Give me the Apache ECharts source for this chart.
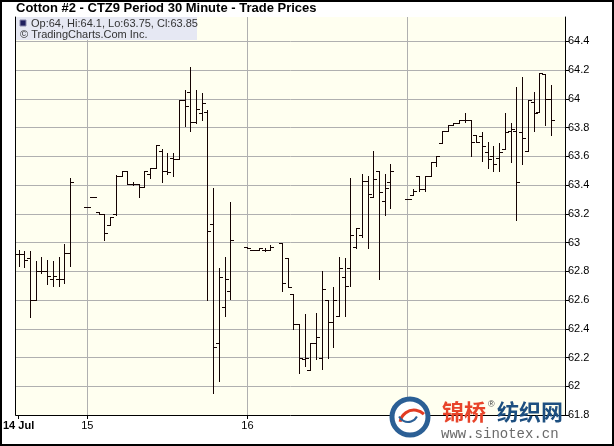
<!DOCTYPE html>
<html><head><meta charset="utf-8">
<script src="https://cdn.jsdelivr.net/npm/echarts@6/dist/echarts.min.js"></script>
<style>html,body{margin:0;padding:0;background:#fff}#c{width:614px;height:446px}</style>
</head><body><div id="c"></div>
<script>
// 30-minute slot index (0 = start of 15 Jul, 28 slots per day)
const slots = [-12,-11,-10,-9,-8,-7,-6,-5,-4,-3,
  0,1,2,3,4,5,6,7,8,9,10,11,12,13,14,15,16,17,18,19,20,21,22,23,24,25,
  28,29,30,31,32,
  34,35,36,37,38,39,40,41,42,43,44,45,46,47,48,49,50,51,52,53,
  56,57,58,59,60,61,62,63,64,65,66,67,68,69,70,71,72,73,74,75,76,77,78,79,80,81];
const opens = [62.92,62.92,62.89,62.60,62.80,62.80,62.75,62.75,62.75,62.93,
  63.25,63.32,63.21,63.20,63.12,63.20,63.46,63.50,63.41,63.41,63.39,63.48,63.52,63.64,63.50,63.59,63.58,63.99,64.05,63.84,63.90,63.91,63.13,62.30,62.55,62.66,
  62.97,62.95,62.95,62.95,62.95,
  63.00,62.89,62.64,62.43,62.19,62.11,62.30,62.20,62.60,62.45,62.49,62.76,62.82,62.97,63.05,63.43,63.32,63.50,63.29,63.42,
  63.30,63.33,63.46,63.37,63.46,63.56,63.69,63.78,63.82,63.83,63.85,63.85,63.75,63.74,63.63,63.60,63.59,63.65,63.78,63.78,63.77,63.64,63.98,63.91,64.17,64.00];
const highs = [62.95,62.94,62.94,62.87,62.90,62.88,62.87,62.90,62.99,63.45,
  63.25,63.32,63.21,63.20,63.18,63.47,63.50,63.50,63.42,63.41,63.50,63.52,63.68,63.65,63.62,63.62,63.99,64.06,64.22,64.06,64.04,63.92,63.38,62.82,62.90,63.28,
  62.97,62.95,62.96,62.96,62.98,
  63.00,62.89,62.64,62.43,62.50,62.30,62.51,62.80,62.60,62.69,62.90,62.89,63.45,63.10,63.48,63.46,63.64,63.50,63.48,63.55,
  63.30,63.37,63.46,63.46,63.56,63.60,63.78,63.82,63.83,63.85,63.90,63.85,63.75,63.77,63.70,63.67,63.69,63.90,63.83,64.08,64.15,63.99,64.05,64.18,64.17,64.10];
const lows = [62.84,62.83,62.48,62.60,62.79,62.71,62.70,62.70,62.72,62.84,
  63.25,63.32,63.20,63.02,63.12,63.19,63.46,63.41,63.40,63.32,63.39,63.45,63.52,63.42,63.48,63.46,63.58,63.81,63.78,63.83,63.85,62.60,61.95,62.04,62.49,62.61,
  62.96,62.95,62.95,62.94,62.95,
  62.66,62.69,62.40,62.09,62.14,62.11,62.19,62.12,62.20,62.27,62.49,62.49,62.70,62.96,63.04,62.96,63.32,62.75,63.19,63.24,
  63.30,63.33,63.36,63.36,63.46,63.53,63.69,63.78,63.82,63.83,63.84,63.60,63.70,63.57,63.52,63.50,63.50,63.65,63.56,63.16,63.55,63.64,63.78,63.91,63.82,63.75];
const closes = [62.92,62.88,62.60,62.80,62.80,62.77,62.77,62.75,62.93,63.42,
  63.25,63.32,63.20,63.07,63.18,63.46,63.50,63.41,63.41,63.39,63.50,63.52,63.68,63.50,63.49,63.58,63.99,63.95,63.84,63.93,63.97,63.08,62.27,62.76,62.75,63.02,
  62.96,62.95,62.96,62.95,62.97,
  62.72,62.69,62.43,62.20,62.20,62.30,62.34,62.68,62.45,62.60,62.82,62.70,63.05,63.10,63.43,63.34,63.44,63.35,63.38,63.50,
  63.30,63.36,63.37,63.46,63.56,63.60,63.78,63.82,63.83,63.85,63.85,63.70,63.70,63.67,63.58,63.55,63.63,63.77,63.79,63.42,63.73,63.99,63.90,64.18,64.00,63.85];
const dayTicks = [-12, 0, 28, 56];
const dayLabels = ['14 Jul', '15', '16', '17'];
const labelTicks = [-12, 0, 28];
const titleText = 'Cotton #2 - CTZ9 Period 30 Minute - Trade Prices';
const legendText = 'Op:64, Hi:64.1, Lo:63.75, Cl:63.85';
const copyText = '\u00A9 TradingCharts.Com Inc.';

const data = slots.map((s, i) => [s, opens[i], highs[i], lows[i], closes[i]]);
const FONT = '"Liberation Sans", Arial, sans-serif';
const X_MIN = -12.5, X_MAX = 83.5, Y_MIN = 61.8, Y_MAX = 64.57;

const chart = echarts.init(document.getElementById('c'), null, {renderer: 'canvas'});
chart.setOption({
  animation: false,
  backgroundColor: '#ffffff',
  title: {
    text: titleText, left: 16, top: 2, padding: 0,
    textStyle: {fontFamily: FONT, fontSize: 13, fontWeight: 'bold', color: '#000'}
  },
  grid: {left: 15, right: 49, top: 17, bottom: 31, show: true, backgroundColor: '#fffff0', borderWidth: 0},
  xAxis: [{
    type: 'value', min: X_MIN, max: X_MAX, position: 'bottom',
    axisLine: {show: true, onZero: false, lineStyle: {color: '#000', width: 1}},
    axisTick: {show: true, customValues: dayTicks, length: 4, lineStyle: {color: '#000'}},
    axisLabel: {
      show: true, customValues: labelTicks, margin: 5,
      fontFamily: FONT, fontSize: 11, color: '#000',
      formatter: v => { const i = dayTicks.indexOf(Math.round(v)); return i === 0 ? '{b|' + dayLabels[0] + '}' : dayLabels[i]; },
      rich: {b: {fontFamily: FONT, fontSize: 11, fontWeight: 'bold', color: '#000'}}
    },
    splitLine: {show: false}
  }, {
    type: 'value', min: X_MIN, max: X_MAX, position: 'bottom',
    axisLine: {show: false}, axisLabel: {show: false},
    axisTick: {show: false, customValues: [0, 28, 56]},
    splitLine: {show: true, lineStyle: {color: '#b0b0b0', width: 1}}
  }],
  yAxis: [{
    type: 'value', min: Y_MIN, max: Y_MAX, interval: 0.2, position: 'right',
    axisLine: {show: true, onZero: false, lineStyle: {color: '#000', width: 1}},
    axisTick: {show: true, length: 4, lineStyle: {color: '#000'}},
    axisLabel: {
      margin: 3, fontFamily: FONT, fontSize: 11, color: '#000', showMaxLabel: false,
      formatter: v => String(Math.round(v * 10) / 10)
    },
    splitLine: {show: true, showMaxLine: false, showMinLine: false, lineStyle: {color: '#b0b0b0', width: 1}}
  }, {
    type: 'value', min: Y_MIN, max: Y_MAX, interval: 0.2, position: 'left',
    axisLine: {show: true, onZero: false, lineStyle: {color: '#000', width: 1}},
    axisTick: {show: false}, axisLabel: {show: false}, splitLine: {show: false}
  }],
  series: [{
    type: 'custom', xAxisIndex: 0, yAxisIndex: 0, z: 3,
    encode: {x: 0, y: [1, 2, 3, 4]},
    data: data,
    renderItem: function (params, api) {
      const x = api.value(0);
      const o = api.coord([x, api.value(1)]);
      const h = api.coord([x, api.value(2)]);
      const l = api.coord([x, api.value(3)]);
      const c = api.coord([x, api.value(4)]);
      const r = v => Math.round(v) + 0.5;
      const cx = r(o[0]);
      const st = {stroke: '#140202', lineWidth: 1};
      return {type: 'group', children: [
        {type: 'line', shape: {x1: cx, y1: Math.round(h[1]), x2: cx, y2: Math.round(l[1]) + 1}, style: st},
        {type: 'line', shape: {x1: cx - 3.5, y1: r(o[1]), x2: cx, y2: r(o[1])}, style: st},
        {type: 'line', shape: {x1: cx, y1: r(c[1]), x2: cx + 3.5, y2: r(c[1])}, style: st}
      ]};
    }
  }],
  graphic: [
    {type: 'rect', z: 50, shape: {x: 16, y: 17, width: 181, height: 23}, style: {fill: '#e6e8f3'}},
    {type: 'rect', z: 51, shape: {x: 20, y: 20, width: 6, height: 6}, style: {fill: '#1e1e5e', stroke: '#8888aa', lineWidth: 1}},
    {type: 'text', z: 51, style: {x: 31, y: 18, text: legendText, fill: '#333', font: '11px ' + FONT, verticalAlign: 'top'}},
    {type: 'text', z: 51, style: {x: 20, y: 29, text: copyText, fill: '#333', font: '11px ' + FONT, verticalAlign: 'top'}},
    // watermark
    {type: 'circle', z: 60, shape: {cx: 410, cy: 417, r: 18}, style: {fill: '#ffffff', stroke: '#2b5f95', lineWidth: 5}},
    {type: 'arc', z: 61, shape: {cx: 414, cy: 424, r: 14, startAngle: Math.PI * 1.05, endAngle: Math.PI * 1.75}, style: {stroke: '#e23b22', lineWidth: 3, fill: 'none'}},
    {type: 'arc', z: 61, shape: {cx: 408, cy: 412, r: 10, startAngle: Math.PI * 0.15, endAngle: Math.PI * 0.85}, style: {stroke: '#2b5f95', lineWidth: 2, fill: 'none'}},
    {type: 'text', z: 62, style: {x: 442, y: 401, text: '锦桥', fill: '#e8442a', font: 'bold 22px "Noto Sans CJK SC"', verticalAlign: 'top'}},
    {type: 'text', z: 62, style: {x: 488, y: 400, text: '®', fill: '#444', font: '9px ' + FONT, verticalAlign: 'top'}},
    {type: 'text', z: 62, style: {x: 497, y: 401, text: '纺织网', fill: '#1d4f80', font: 'bold 22px "Noto Sans CJK SC"', verticalAlign: 'top'}},
    {type: 'text', z: 62, style: {x: 441, y: 427, text: 'www.sinotex.cn', fill: '#6a6a6a', font: '14px "Liberation Mono", monospace', verticalAlign: 'top'}},
    // outer frame
    {type: 'rect', z: 70, shape: {x: 1, y: 1, width: 612, height: 444}, style: {fill: 'none', stroke: '#000', lineWidth: 2}}
  ]
});
</script></body></html>
